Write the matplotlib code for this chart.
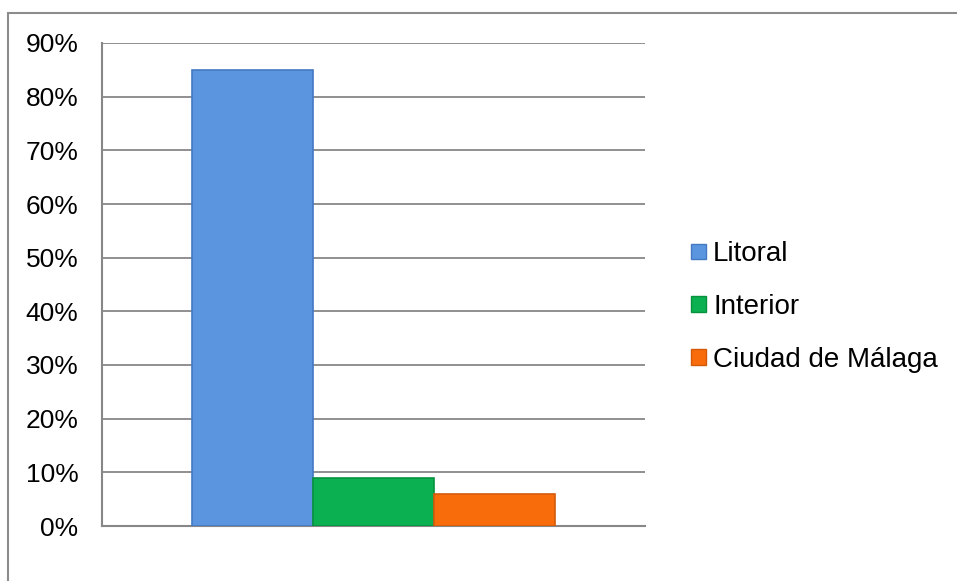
import matplotlib.pyplot as plt
from matplotlib.patches import Rectangle
from matplotlib.ticker import FuncFormatter

plt.rcParams['font.family'] = ['Liberation Sans', 'DejaVu Sans']

# data
series = ["Litoral", "Interior", "Ciudad de Málaga"]
values = [85, 9, 6]
colors = ["#5B95E0", "#0BB150", "#F96C0B"]
edge_colors = ["#4479C2", "#08923F", "#D45A0A"]
yticks = [0, 10, 20, 30, 40, 50, 60, 70, 80, 90]

fig = plt.figure(figsize=(9.57, 5.81), dpi=100)
ax = fig.add_axes([102 / 957, 1 - 526 / 581, 543 / 957, 483 / 581])

# outer chart border (left and top visible)
fig.patches.append(Rectangle((8 / 957, -0.05), 1.1, 1 - 13 / 581 + 0.05,
                             transform=fig.transFigure, fill=False,
                             edgecolor="#8C8C8C", linewidth=1.5))

grey = "#878787"
handles = []
for i, (name, v) in enumerate(zip(series, values)):
    ax.bar(i - 1, v, width=1.0, color=colors[i], edgecolor=edge_colors[i],
           linewidth=1.2, label=name, zorder=3)
    handles.append(Rectangle((0, 0), 1, 1, facecolor=colors[i],
                             edgecolor=edge_colors[i], linewidth=1.0))

ax.set_xlim(-2.244, 2.244)
ax.set_ylim(0, 90)
ax.set_yticks(yticks)
ax.yaxis.set_major_formatter(FuncFormatter(lambda v, p: f"{int(v)}%"))
ax.set_xticks([])
ax.tick_params(axis="y", length=0, pad=17, labelsize=19)
ax.grid(axis="y", color=grey, linewidth=1.3, zorder=0)
for s in ["top", "right"]:
    ax.spines[s].set_visible(False)
for s in ["left", "bottom"]:
    ax.spines[s].set_color(grey)
    ax.spines[s].set_linewidth(1.5)

leg = fig.legend(handles, series, loc="center left",
                 bbox_to_anchor=(666 / 957, 1 - 307 / 581),
                 frameon=False, fontsize=20, handlelength=0.55,
                 handleheight=0.47, handletextpad=0.25, labelspacing=0.97)

fig.savefig("out.png", dpi=100)
